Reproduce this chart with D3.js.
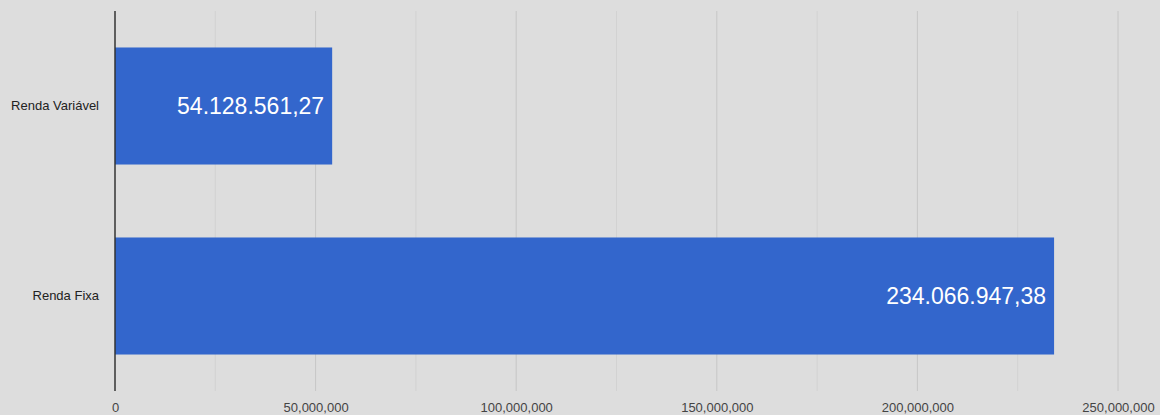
<!DOCTYPE html>
<html>
<head>
<meta charset="utf-8">
<script src="https://cdn.jsdelivr.net/npm/d3@7"></script>
<style>
  html, body { margin: 0; padding: 0; background: #dddddd; }
  svg { display: block; font-family: Arial, "Liberation Sans", sans-serif; }
</style>
</head>
<body>
<figure style="margin: 0"></figure>
<script>
const categories = ['Renda Variável', 'Renda Fixa']
const values = [54128561.27, 234066947.38]
const valueLabels = ['54.128.561,27', '234.066.947,38']
const tickValues = [0, 50000000, 100000000, 150000000, 200000000, 250000000]
const gridValues = [25000000, 75000000, 125000000, 175000000, 225000000]

const totalWidth = 1160
const totalHeight = 415
const margin = {top: 11, right: 42, bottom: 24, left: 115}
const width = totalWidth - margin.left - margin.right
const height = totalHeight - margin.top - margin.bottom

const svg = d3.select('figure')
  .append('svg')
  .attr('width', totalWidth)
  .attr('height', totalHeight)

const g = svg.append('g')
  .attr('transform', `translate(${margin.left}, ${margin.top})`)

const x = d3.scaleLinear()
  .domain([0, 250000000])
  .range([0, width])

const y = d3.scaleBand()
  .domain(categories)
  .range([0, height])
  .paddingInner(0.384)
  .paddingOuter(0.192)

// minor gridlines
g.selectAll('.minor')
  .data(gridValues)
  .enter()
  .append('line')
  .attr('x1', d => x(d))
  .attr('x2', d => x(d))
  .attr('y1', 0)
  .attr('y2', height)
  .attr('stroke', '#d2d2d2')
  .attr('stroke-width', 1)

// major gridlines
g.selectAll('.major')
  .data(tickValues.slice(1))
  .enter()
  .append('line')
  .attr('x1', d => x(d))
  .attr('x2', d => x(d))
  .attr('y1', 0)
  .attr('y2', height)
  .attr('stroke', '#c6c6c6')
  .attr('stroke-width', 1)

g.selectAll('rect')
  .data(values)
  .enter()
  .append('rect')
  .attr('x', 0)
  .attr('y', (d, i) => y(categories[i]))
  .attr('width', d => x(d))
  .attr('height', y.bandwidth())
  .attr('fill', '#3366cc')

g.selectAll('.value-label')
  .data(values)
  .enter()
  .append('text')
  .attr('x', d => x(d) - 8)
  .attr('y', (d, i) => y(categories[i]) + y.bandwidth() / 2)
  .attr('dy', '0.35em')
  .attr('text-anchor', 'end')
  .attr('fill', '#ffffff')
  .style('font-size', '23px')
  .text((d, i) => valueLabels[i])

// x axis
const xAxis = g.append('g')
  .attr('transform', `translate(0, ${height})`)
  .call(d3.axisBottom(x)
    .tickValues(tickValues)
    .tickSize(0)
    .tickPadding(12)
    .tickFormat(d3.format(',')))
xAxis.select('.domain').remove()
xAxis.selectAll('text')
  .attr('fill', '#444444')
  .style('font-size', '13px')

// y axis
const yAxis = g.append('g')
  .call(d3.axisLeft(y).tickSize(0).tickPadding(16))
yAxis.select('.domain').remove()
yAxis.selectAll('text')
  .attr('fill', '#222222')
  .style('font-size', '13px')

// baseline
g.append('line')
  .attr('x1', x(0))
  .attr('x2', x(0))
  .attr('y1', 0)
  .attr('y2', height)
  .attr('stroke', '#333333')
  .attr('stroke-width', 1.5)
</script>
</body>
</html>
